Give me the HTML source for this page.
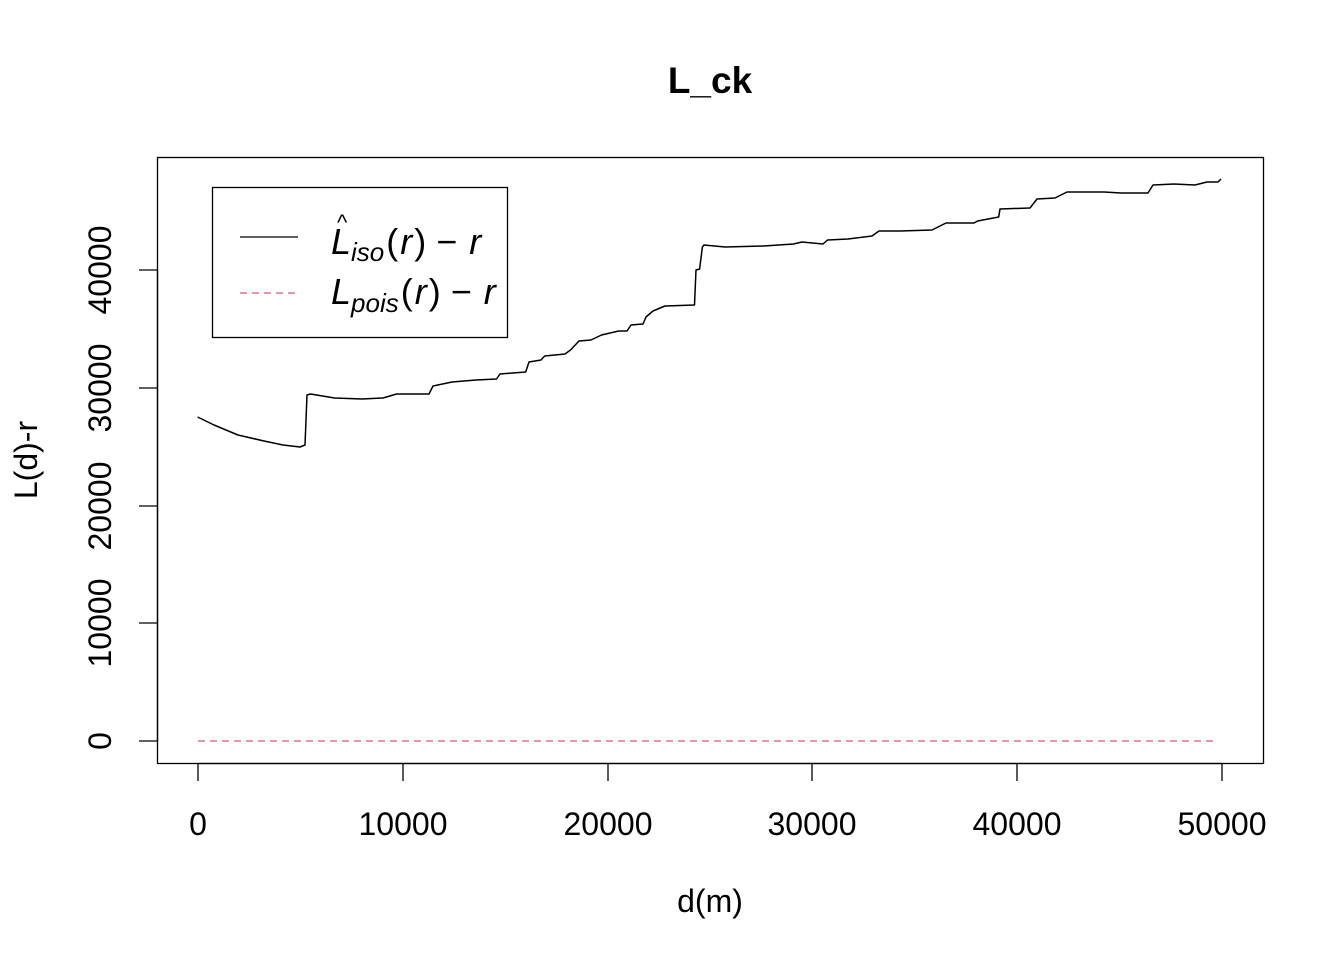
<!DOCTYPE html>
<html><head><meta charset="utf-8"><style>body{margin:0;background:#fff}svg{display:block}</style></head><body>
<svg width="1344" height="960" viewBox="0 0 1344 960" font-family="Liberation Sans, sans-serif">
<rect width="1344" height="960" fill="#fff"/>
<text x="710" y="93" font-size="37" font-weight="bold" text-anchor="middle">L_ck</text>
<rect x="157.5" y="157.5" width="1106" height="606" fill="none" stroke="#000" stroke-width="1.3"/>
<g stroke="#000" stroke-width="1.3">
<line x1="198" y1="763.5" x2="1222" y2="763.5"/>
<line x1="198" y1="763" x2="198" y2="781"/><line x1="403" y1="763" x2="403" y2="781"/><line x1="608" y1="763" x2="608" y2="781"/><line x1="812" y1="763" x2="812" y2="781"/><line x1="1017" y1="763" x2="1017" y2="781"/><line x1="1222" y1="763" x2="1222" y2="781"/>
<line x1="157.5" y1="741" x2="157.5" y2="270"/>
<line x1="139" y1="741" x2="157" y2="741"/><line x1="139" y1="623" x2="157" y2="623"/><line x1="139" y1="506" x2="157" y2="506"/><line x1="139" y1="388" x2="157" y2="388"/><line x1="139" y1="270" x2="157" y2="270"/>
</g>
<g font-size="32" text-anchor="middle">
<text x="198" y="835">0</text><text x="403" y="835">10000</text><text x="608" y="835">20000</text><text x="812" y="835">30000</text><text x="1017" y="835">40000</text><text x="1222" y="835">50000</text>
<text transform="translate(111,741) rotate(-90)">0</text>
<text transform="translate(111,623) rotate(-90)">10000</text>
<text transform="translate(111,506) rotate(-90)">20000</text>
<text transform="translate(111,388) rotate(-90)">30000</text>
<text transform="translate(111,270) rotate(-90)">40000</text>
<text x="710" y="912">d(m)</text>
<text transform="translate(37,460) rotate(-90)">L(d)-r</text>
</g>
<line x1="198" y1="741" x2="1216" y2="741" stroke="#DF536B" stroke-width="1.3" stroke-dasharray="7,5"/>
<polyline fill="none" stroke="#000" stroke-width="1.5" stroke-linejoin="round" points="197.6,417 214,425 238,435 264,441 283,445 300,447 305,445 307,395 310.5,394 334.6,398 362,399 383,398 396.6,394 429,394 433,386 452,382 476,380 496.5,379 500,374 525.7,372 529,362 541,360 544.7,356 565,354 570.5,350 579,341 591,340 601.5,335 618.7,331 627,331 631,325 643,324 646,317 653,311 665,306 694.5,305 696,270 699.6,269 702.4,247 704,245 725,247 763.7,246 793.5,244 802,242 823,244 827.5,240 848,239 872,236 879,231 900,231 932,230 946,223 974,223 977.6,221 998.7,217 1000,209 1030,208 1037,199 1055,198 1067,192 1104,192 1121,193 1148,193 1153,185 1174,184 1195,185 1207,182 1218,182 1221,179"/>
<rect x="212.5" y="187.5" width="295" height="150" fill="#fff" stroke="#000" stroke-width="1.3"/>
<line x1="240" y1="237" x2="298" y2="237" stroke="#000" stroke-width="1.3"/>
<line x1="240" y1="293" x2="298" y2="293" stroke="#DF536B" stroke-width="1.3" stroke-dasharray="7,5"/>
<g font-size="36">
<text x="331" y="254"><tspan font-style="italic">L</tspan><tspan font-size="26" font-style="italic" dy="7">iso</tspan><tspan dy="-7" dx="2">(</tspan><tspan font-style="italic" dx="2">r</tspan><tspan dx="2">) − </tspan><tspan font-style="italic" dx="2">r</tspan></text>
<text x="337" y="230" font-size="22">^</text>
<text x="331" y="304"><tspan font-style="italic">L</tspan><tspan font-size="26" font-style="italic" dy="8">pois</tspan><tspan dy="-8" dx="2">(</tspan><tspan font-style="italic" dx="2">r</tspan><tspan dx="2">) − </tspan><tspan font-style="italic" dx="2">r</tspan></text>
</g>
</svg>
</body></html>
